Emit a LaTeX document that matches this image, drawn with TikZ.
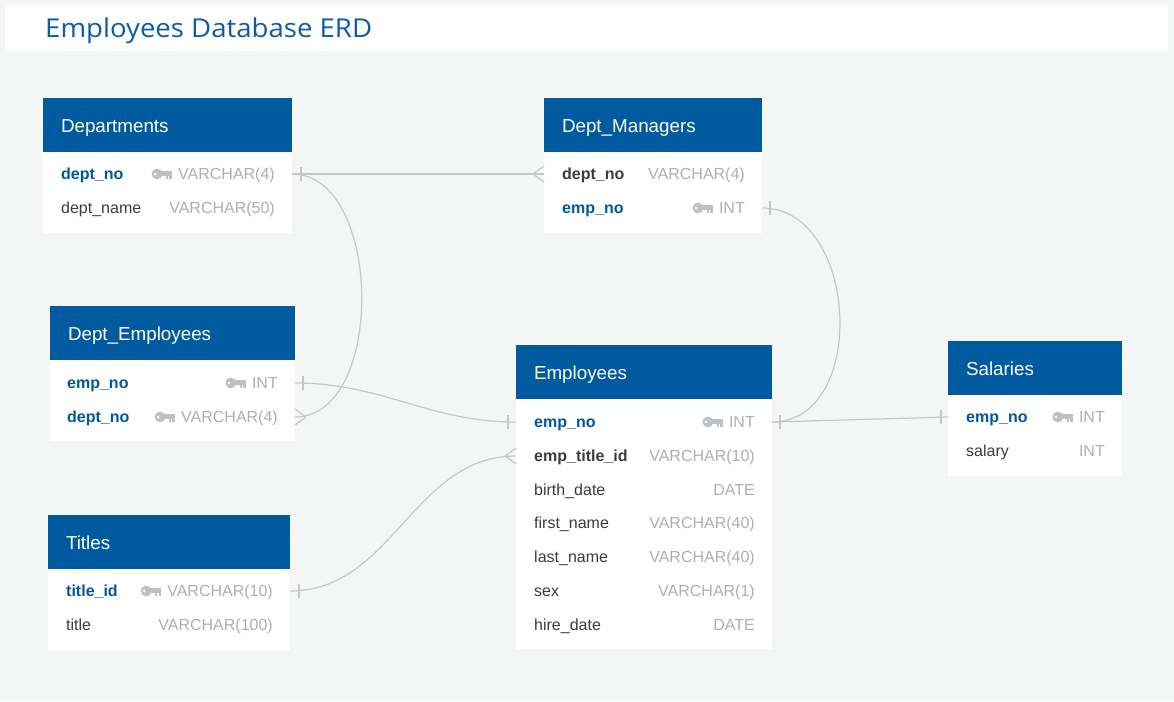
\documentclass[tikz,border=0pt]{standalone}
\usepackage{fontspec}
\setmainfont{Liberation Sans}
\newfontfamily\titlefont[FakeStretch=1.06]{Open Sans}
\usetikzlibrary{positioning}

\definecolor{bgc}{RGB}{244,245,245}
\definecolor{hdrc}{RGB}{0,90,160}
\definecolor{pkc}{RGB}{0,88,156}
\definecolor{namec}{RGB}{58,60,62}
\definecolor{typec}{RGB}{172,176,180}
\definecolor{keyc}{RGB}{190,193,196}
\definecolor{relc}{RGB}{198,198,198}
\definecolor{ttlc}{RGB}{12,92,170}

\tikzset{
  thead/.style={fill=hdrc, text=white, anchor=north west, inner xsep=18pt, inner ysep=0pt,
    outer sep=0pt, minimum height=54pt, align=left, text height=17pt, text depth=3pt,
    font=\fontsize{18.8}{22}\selectfont},
  tbody/.style={fill=white, anchor=north, inner sep=0pt, outer sep=0pt},
  trow/.style={anchor=west, inner sep=0pt, outer sep=0pt, minimum height=30pt},
  fld/.style={inner sep=0pt, text height=14pt, text depth=3pt, text=namec,
    font=\fontsize{16}{19}\selectfont},
  pk/.style={fld, text=pkc, font=\fontsize{16}{19}\selectfont\bfseries},
  fk/.style={fld, font=\fontsize{16}{19}\selectfont\bfseries},
  ty/.style={fld, text=typec},
  rel/.style={draw=relc, line width=1.2pt},
  pkey/.pic={
    \fill[keyc, even odd rule] (-15,0) circle[radius=5.4] (-16.8,0) circle[radius=1.7];
    \fill[keyc] (-11,-3.2) rectangle (0,1.6);
    \fill[keyc] (-6.2,1.6) rectangle (-3.8,4.8);
    \fill[keyc] (-2.6,1.6) rectangle (0,4.8);
  },
  one/.pic={\draw[rel] (0,-7) -- (0,7);},
  crowL/.pic={\draw[rel] (-11,0) -- (0,-8) (-11,0) -- (0,8);},
  crowR/.pic={\draw[rel] (11,0) -- (0,-8) (11,0) -- (0,8);},
}

\begin{document}
\begin{tikzpicture}[x=1pt, y=-1pt]%[show background grid]
  \fill[bgc] (0,0) rectangle (1174,701);
  \useasboundingbox (0,0) rectangle (1174,701);
  \fill[white] (5,5) rectangle (1168,51);
  \node[anchor=base west, inner sep=0pt, text=ttlc, font=\titlefont\fontsize{26}{31}\selectfont]
    (title) at (45,37.5) {Employees Database ERD};

  % Departments
  \node[thead, text width=213pt] (dep) at (43,98) {Departments};
  \node[tbody, minimum width=249pt, minimum height=81pt, below=0pt of dep] (dep-b) {};
  \node[trow, minimum width=249pt] (dep-no) at (43,174) {};
  \node[pk, right=18pt of dep-no.west] (dep-no-n) {dept\_no};
  \node[ty, left=17pt of dep-no.east] (dep-no-t) {VARCHAR(4)};
  \pic at ([xshift=-6pt]dep-no-t.west) {pkey};
  \node[trow, minimum width=249pt] (dep-nm) at (43,208) {};
  \node[fld, right=18pt of dep-nm.west] (dep-nm-n) {dept\_name};
  \node[ty, left=17pt of dep-nm.east] (dep-nm-t) {VARCHAR(50)};

  % Dept_Managers
  \node[thead, text width=182pt] (mgr) at (544,98) {Dept\_Managers};
  \node[tbody, minimum width=218pt, minimum height=81pt, below=0pt of mgr] (mgr-b) {};
  \node[trow, minimum width=218pt] (mgr-dno) at (544,174) {};
  \node[fk, right=18pt of mgr-dno.west] (mgr-dno-n) {dept\_no};
  \node[ty, left=17pt of mgr-dno.east] (mgr-dno-t) {VARCHAR(4)};
  \node[trow, minimum width=218pt] (mgr-eno) at (544,208) {};
  \node[pk, right=18pt of mgr-eno.west] (mgr-eno-n) {emp\_no};
  \node[ty, left=17pt of mgr-eno.east] (mgr-eno-t) {INT};
  \pic at ([xshift=-6pt]mgr-eno-t.west) {pkey};

  % Dept_Employees
  \node[thead, text width=209pt] (demp) at (50,306) {Dept\_Employees};
  \node[tbody, minimum width=245pt, minimum height=81pt, below=0pt of demp] (demp-b) {};
  \node[trow, minimum width=245pt] (demp-eno) at (50,383) {};
  \node[pk, right=17pt of demp-eno.west] (demp-eno-n) {emp\_no};
  \node[ty, left=17pt of demp-eno.east] (demp-eno-t) {INT};
  \pic at ([xshift=-6pt]demp-eno-t.west) {pkey};
  \node[trow, minimum width=245pt] (demp-dno) at (50,417) {};
  \node[pk, right=17pt of demp-dno.west] (demp-dno-n) {dept\_no};
  \node[ty, left=17pt of demp-dno.east] (demp-dno-t) {VARCHAR(4)};
  \pic at ([xshift=-6pt]demp-dno-t.west) {pkey};

  % Titles
  \node[thead, text width=206pt] (tit) at (48,515) {Titles};
  \node[tbody, minimum width=242pt, minimum height=81pt, below=0pt of tit] (tit-b) {};
  \node[trow, minimum width=242pt] (tit-tid) at (48,591) {};
  \node[pk, right=18pt of tit-tid.west] (tit-tid-n) {title\_id};
  \node[ty, left=17pt of tit-tid.east] (tit-tid-t) {VARCHAR(10)};
  \pic at ([xshift=-6pt]tit-tid-t.west) {pkey};
  \node[trow, minimum width=242pt] (tit-tl) at (48,625) {};
  \node[fld, right=18pt of tit-tl.west] (tit-tl-n) {title};
  \node[ty, left=17pt of tit-tl.east] (tit-tl-t) {VARCHAR(100)};

  % Employees
  \node[thead, text width=220pt] (emp) at (516,345) {Employees};
  \node[tbody, minimum width=256pt, minimum height=250pt, below=0pt of emp] (emp-b) {};
  \node[trow, minimum width=256pt] (emp-eno) at (516,422) {};
  \node[pk, right=18pt of emp-eno.west] (emp-eno-n) {emp\_no};
  \node[ty, left=17pt of emp-eno.east] (emp-eno-t) {INT};
  \pic at ([xshift=-6pt]emp-eno-t.west) {pkey};
  \node[trow, minimum width=256pt] (emp-etid) at (516,456) {};
  \node[fk, right=18pt of emp-etid.west] (emp-etid-n) {emp\_title\_id};
  \node[ty, left=17pt of emp-etid.east] (emp-etid-t) {VARCHAR(10)};
  \foreach \r/\y/\n/\t in {bd/490/birth\_date/DATE, fn/523/first\_name/VARCHAR(40),
      ln/557/last\_name/VARCHAR(40), sx/591/sex/VARCHAR(1), hd/625/hire\_date/DATE} {
    \node[trow, minimum width=256pt] (emp-\r) at (516,\y) {};
    \node[fld, right=18pt of emp-\r.west] (emp-\r-n) {\n};
    \node[ty, left=17pt of emp-\r.east] (emp-\r-t) {\t};
  }

  % Salaries
  \node[thead, text width=138pt] (sal) at (948,341) {Salaries};
  \node[tbody, minimum width=174pt, minimum height=81pt, below=0pt of sal] (sal-b) {};
  \node[trow, minimum width=174pt] (sal-eno) at (948,417) {};
  \node[pk, right=18pt of sal-eno.west] (sal-eno-n) {emp\_no};
  \node[ty, left=17pt of sal-eno.east] (sal-eno-t) {INT};
  \pic at ([xshift=-6pt]sal-eno-t.west) {pkey};
  \node[trow, minimum width=174pt] (sal-sl) at (948,451) {};
  \node[fld, right=18pt of sal-sl.west] (sal-sl-n) {salary};
  \node[ty, left=17pt of sal-sl.east] (sal-sl-t) {INT};

  % relations
  \draw[rel] (dep-no.east) -- (mgr-dno.west);
  \draw[rel] (dep-no.east) to[out=0, in=0, distance=91pt] (demp-dno.east);
  \draw[rel] (demp-eno.east) to[out=0, in=180] (emp-eno.west);
  \draw[rel] (mgr-eno.east) to[out=0, in=0, distance=97pt] (emp-eno.east);
  \draw[rel] (emp-eno.east) -- (sal-eno.west);
  \draw[rel] (tit-tid.east) to[out=0, in=180] (emp-etid.west);

  \pic at ([xshift=9pt]dep-no.east) {one};
  \pic at (mgr-dno.west) {crowL};
  \pic at (demp-dno.east) {crowR};
  \pic at ([xshift=8pt]demp-eno.east) {one};
  \pic at ([xshift=-8pt]emp-eno.west) {one};
  \pic at ([xshift=8pt]mgr-eno.east) {one};
  \pic at ([xshift=8pt]emp-eno.east) {one};
  \pic at ([xshift=-7pt]sal-eno.west) {one};
  \pic at ([xshift=9pt]tit-tid.east) {one};
  \pic at (emp-etid.west) {crowL};
\end{tikzpicture}
\end{document}
